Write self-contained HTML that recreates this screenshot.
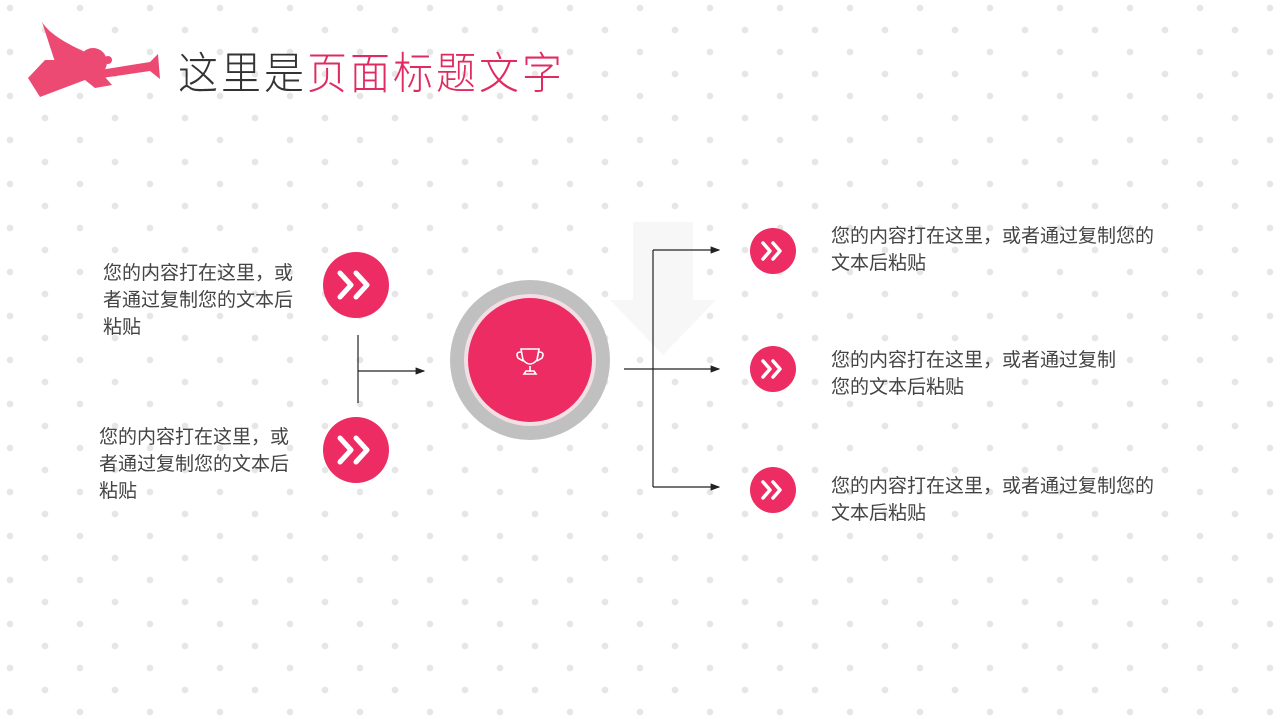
<!DOCTYPE html>
<html><head><meta charset="utf-8"><style>
body{margin:0;width:1280px;height:720px;overflow:hidden;position:relative;background-color:#fff;
background-image:radial-gradient(circle,#e6e6e6 3px,transparent 3.6px),radial-gradient(circle,#e6e6e6 3px,transparent 3.6px);
background-size:70px 44px;background-position:10px 8px,45px 30px;
font-family:"Liberation Sans","Noto Sans CJK SC",sans-serif;}
.t{position:absolute;font-size:19px;color:#444;line-height:27px;font-family:"Noto Sans CJK SC",sans-serif;}
</style></head><body>
<svg width="1280" height="720" style="position:absolute;left:0;top:0">
<defs><marker id="a" markerWidth="8" markerHeight="8" refX="7" refY="4" orient="auto"><path d="M0,1 L8,4 L0,7z" fill="#222"/></marker></defs>
<g fill="#ec4a73">
<path d="M42,22 C50,35 70,45 85,52 L78,62 L55,62 Z"/>
<path d="M28,78 L45,60 L90,60 L112,85 L95,88 L85,80 L40,97 Z"/>
<circle cx="93" cy="62" r="14"/>
<path d="M100,70 L150,62 L158,54 L160,79 L150,71 L102,78Z"/>
<circle cx="108" cy="60" r="4"/>
</g>
<rect x="633" y="222" width="60" height="80" fill="#f7f7f7"/>
<path d="M610,300 L716,300 L663,355Z" fill="#f7f7f7"/>
<g stroke="#222" stroke-width="1.2" fill="none">
<line x1="358" y1="335" x2="358" y2="403"/>
<line x1="358" y1="371" x2="424" y2="371" marker-end="url(#a)"/>
<line x1="624" y1="369" x2="719" y2="369" marker-end="url(#a)"/>
<line x1="653" y1="250" x2="653" y2="487"/>
<line x1="653" y1="250" x2="719" y2="250" marker-end="url(#a)"/>
<line x1="653" y1="487" x2="719" y2="487" marker-end="url(#a)"/>
</g>
<circle cx="530" cy="360" r="80" fill="#c0c0c0"/>
<circle cx="530" cy="360" r="66" fill="#f1dfe4"/>
<circle cx="530" cy="360" r="62" fill="#ec2c62"/>
<g stroke="#fff" stroke-width="1.6" fill="none">
<path d="M521,349 L539,349 L537,360 Q530,368 523,360Z"/>
<path d="M521,352 Q515,352 518,358 L523,361 M539,352 Q545,352 542,358 L537,361"/>
<path d="M530,366 L530,372 M524,374 L536,374 L534,371 L526,371Z"/>
</g>
<g fill="#ec2c62">
<circle cx="356" cy="285" r="33"/><circle cx="356" cy="450" r="33"/>
<circle cx="773" cy="251" r="23"/><circle cx="773" cy="369" r="23"/><circle cx="773" cy="490" r="23"/>
</g>
<g stroke="#fff" stroke-width="5" fill="none" stroke-linecap="round" stroke-linejoin="round">
<path d="M340,273 L351,285 L340,297 M356,273 L367,285 L356,297"/>
<path d="M340,438 L351,450 L340,462 M356,438 L367,450 L356,462"/>
</g>
<g stroke="#fff" stroke-width="3.5" fill="none" stroke-linecap="round" stroke-linejoin="round">
<path d="M763,243 L770,251 L763,259 M773,243 L780,251 L773,259"/>
<path d="M763,361 L770,369 L763,377 M773,361 L780,369 L773,377"/>
<path d="M763,482 L770,490 L763,498 M773,482 L780,490 L773,498"/>
</g>
</svg>
<div style="position:absolute;left:178px;top:40px;font-size:40px;letter-spacing:3px;line-height:60px;font-family:'Noto Sans CJK SC',sans-serif;font-weight:300;transform:scaleY(1.1);transform-origin:0 50%"><span style="color:#333">这里是</span><span style="color:#e02b62">页面标题文字</span></div>
<div class="t" style="left:103px;top:258px;width:196px">您的内容打在这里，或者通过复制您的文本后粘贴</div>
<div class="t" style="left:99px;top:422px;width:196px">您的内容打在这里，或者通过复制您的文本后粘贴</div>
<div class="t" style="left:831px;top:221px;width:328px">您的内容打在这里，或者通过复制您的文本后粘贴</div>
<div class="t" style="left:831px;top:345px;width:292px">您的内容打在这里，或者通过复制您的文本后粘贴</div>
<div class="t" style="left:831px;top:471px;width:328px">您的内容打在这里，或者通过复制您的文本后粘贴</div>
</body></html>
